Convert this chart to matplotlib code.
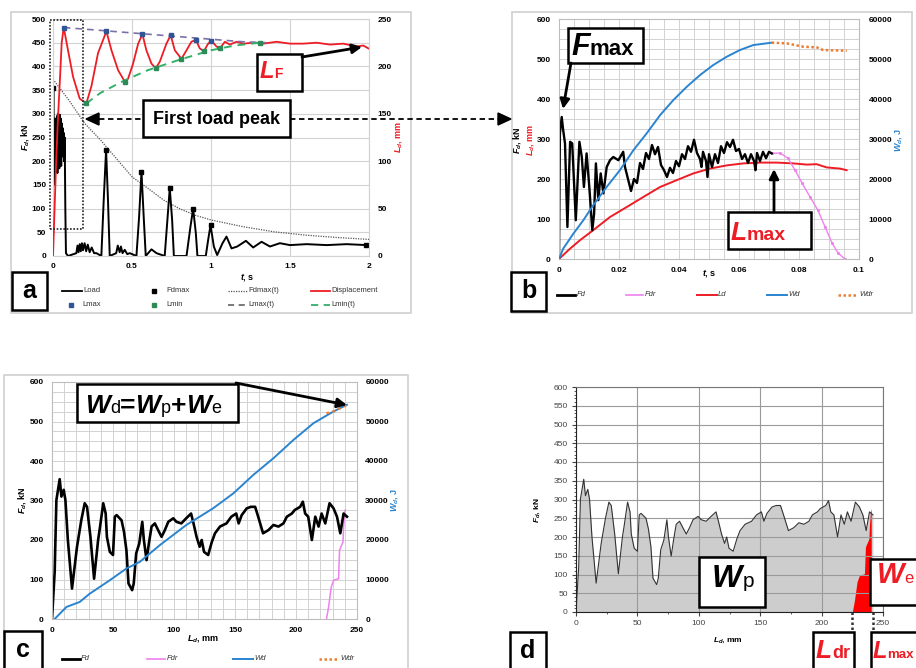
import matplotlib
matplotlib.use('Agg')
import matplotlib.pyplot as plt
from matplotlib.patches import Rectangle, FancyArrowPatch, Polygon
from matplotlib.lines import Line2D

plt.rcParams['font.family'] = ['Liberation Sans', 'DejaVu Sans']
plt.rcParams['mathtext.fontset'] = 'custom'
plt.rcParams['mathtext.rm'] = 'Liberation Sans:bold'
plt.rcParams['mathtext.it'] = 'Liberation Sans:italic:bold'
plt.rcParams['mathtext.bf'] = 'Liberation Sans:bold'

# ---------------- data: panel a (load / displacement vs time) ----------------
t_load = [0, 0.002, 0.004, 0.007, 0.010, 0.013, 0.016, 0.019, 0.022, 0.025, 0.028, 0.031, 0.034,
          0.037, 0.040, 0.043, 0.046, 0.049, 0.052, 0.055, 0.058, 0.061, 0.064, 0.067, 0.070, 0.074,
          0.078, 0.082,
          0.095, 0.148, 0.155, 0.162, 0.169, 0.176, 0.183, 0.19, 0.20, 0.21, 0.22, 0.232, 0.245, 0.26,
          0.275, 0.306, 0.321, 0.336, 0.348, 0.359, 0.40, 0.41, 0.422, 0.43, 0.44, 0.454, 0.47,
          0.486, 0.528, 0.545, 0.56, 0.574, 0.587, 0.623, 0.655, 0.707, 0.724, 0.739, 0.754, 0.765, 0.845,
          0.87, 0.887, 0.904, 0.914, 0.967, 0.982, 0.997, 1.018, 1.039, 1.073, 1.098, 1.13, 1.166, 1.221,
          1.267, 1.32, 1.373, 1.436, 1.5, 1.605, 1.732, 1.858, 1.985]
F_load = [0, 354, 150, 260, 200, 290, 180, 280, 190, 295, 175, 300, 200,
          285, 185, 298, 205, 290, 190, 280, 210, 270, 220, 260, 200, 250,
          100, 6,
          0, 6, 22, 8, 25, 10, 27, 12, 27, 10, 24, 8, 18, 6,
          6, 0, 118, 224, 118, 0, 6, 22, 8, 20, 6, 13, 4,
          6, 0, 83, 178, 83, 0, 14, 6, 0, 76, 143, 76, 0, 0,
          62, 100, 48, 0, 0, 34, 65, 20, 2, 27, 41, 16, 20, 32,
          18, 30, 20, 27, 23, 25, 23, 25, 23]
t_fdmax = [0, 0.338, 0.56, 0.739, 0.887, 0.997, 1.98]
F_fdmax = [354, 224, 178, 143, 100, 65, 23]
t_fdmax_fit = [0, 0.1, 0.2, 0.3, 0.4, 0.5, 0.6, 0.7, 0.8, 0.9, 1.0, 1.2, 1.4, 1.6, 1.8, 2.0]
F_fdmax_fit = [373, 329, 280, 245, 206, 167, 143, 118, 100, 86, 76, 62, 51, 44, 39, 35]
t_disp = [0, 0.01, 0.02, 0.03, 0.045, 0.055, 0.068, 0.095, 0.127, 0.169, 0.211, 0.243, 0.285, 0.338,
          0.37, 0.412, 0.454, 0.475, 0.507, 0.539, 0.566, 0.591, 0.623, 0.65, 0.676, 0.718, 0.745, 0.771,
          0.813, 0.845, 0.876, 0.904, 0.929, 0.955, 0.982, 1.003, 1.035, 1.056, 1.088, 1.119, 1.162, 1.204,
          1.267, 1.33, 1.415, 1.5, 1.584, 1.668, 1.753, 1.837, 1.922, 1.964, 1.996]
L_disp = [0, 50, 100, 140, 190, 225, 241, 217, 189, 166, 161, 179, 214, 237,
          217, 196, 184, 187, 203, 224, 234, 217, 203, 198, 205, 224, 233, 217,
          208, 217, 226, 228, 219, 216, 224, 227, 221, 219, 226, 223, 226, 224,
          225, 224, 226, 224, 224, 225, 223, 224, 221, 222, 219]
t_lmax = [0.068, 0.338, 0.566, 0.745, 0.904, 1.003]
L_lmax = [241, 237, 234, 233, 228, 227]
t_lmax_fit = [0.068, 0.3, 0.6, 0.9, 1.2, 1.35]
L_lmax_fit = [241, 238, 234, 230, 226, 225]
t_lmin = [0.211, 0.454, 0.65, 0.813, 0.955, 1.056, 1.31]
L_lmin = [161, 184, 198, 208, 216, 219, 225]
t_lmin_fit = [0.211, 0.3, 0.45, 0.6, 0.8, 1.0, 1.15, 1.31]
L_lmin_fit = [161, 172, 185, 196, 207, 217, 222, 225]

# ---------------- data: panel b (vs time, first load peak) ----------------
t_fd_b = [0, 0.0003, 0.0009, 0.0014, 0.002, 0.0028, 0.0037, 0.0044, 0.0056, 0.0068, 0.0076, 0.0083,
          0.0092, 0.0101, 0.0111, 0.0117, 0.0123, 0.0131, 0.0139, 0.0148, 0.0159, 0.017, 0.0181, 0.0198,
          0.0214, 0.022, 0.0231,
          0.024, 0.025, 0.026, 0.027, 0.028, 0.029, 0.030, 0.031, 0.032, 0.033, 0.034, 0.035, 0.036,
          0.037, 0.038, 0.039, 0.040, 0.041, 0.042, 0.043, 0.044, 0.045, 0.046, 0.047, 0.0475, 0.048,
          0.049, 0.0495, 0.050, 0.051, 0.052, 0.053, 0.054, 0.055, 0.056, 0.057, 0.058, 0.059, 0.060,
          0.061, 0.062, 0.063, 0.064, 0.065, 0.0655, 0.066, 0.067, 0.068, 0.069, 0.070, 0.0709]
F_fd_b = [0, 314, 355, 322, 289, 80, 293, 289, 97, 293, 255, 180,
          264, 180, 72, 113, 239, 147, 214, 164, 230, 247, 255, 247,
          268, 230, 197,
          170, 200, 190, 240, 225, 265, 250, 285, 262, 280, 235, 222, 205,
          228, 215, 245, 232, 262, 250, 282, 268, 298, 265, 250, 230, 268,
          245, 205, 262, 230, 262, 240, 282, 265, 292, 280, 298, 270, 275,
          250, 262, 240, 262, 245, 222, 265, 245, 268, 252, 268, 264]
t_fdr_b = [0.0709, 0.0737, 0.0763, 0.0787, 0.081, 0.0837, 0.0863, 0.0887, 0.091, 0.093, 0.0953]
F_fdr_b = [264, 265, 252, 222, 190, 155, 122, 80, 40, 15, 0]
t_ld_b = [0, 0.0037, 0.007, 0.0114, 0.017, 0.0226, 0.0281, 0.0337, 0.0392, 0.0448, 0.0503, 0.0559,
          0.0614, 0.067, 0.0726, 0.0781, 0.0826, 0.0859, 0.0892, 0.0937, 0.0959]
L_ld_b = [0, 26, 47, 72, 105, 130, 155, 180, 197, 214, 226, 234, 239, 241, 241, 239, 236, 237, 229, 226, 222]
t_wd_b = [0, 0.0014, 0.0048, 0.0081, 0.0114, 0.0159, 0.0203, 0.0248, 0.0292, 0.0337, 0.0381, 0.0426,
          0.047, 0.0514, 0.0559, 0.0603, 0.0648, 0.0709]
W_wd_b = [0, 2587, 6342, 9680, 13435, 18025, 22200, 27200, 31380, 35970, 39720, 43060,
          45980, 48480, 50570, 52240, 53490, 54080]
t_wdr_b = [0.0709, 0.0759, 0.0814, 0.0859, 0.0881, 0.0959]
W_wdr_b = [54080, 53910, 53070, 52910, 52240, 52070]

# ---------------- data: panels c and d (vs displacement) ----------------
L_fd = [0, 2.2, 3.6, 6.3, 7.7, 9.6, 11, 13, 16.4, 20.5,
        24, 26.8, 28.7, 31.5, 34.5, 37.8, 39, 42, 44, 45,
        47.4, 50, 51.5, 53, 57, 59, 61, 62.7, 65.7, 67,
        69, 71.5, 74, 75.3, 77.5, 79.4, 81.6, 84.3, 87, 89.8,
        92.5, 95.3, 99.4, 102, 106, 110, 114, 116, 118.5, 121,
        122.7, 124.6, 128, 131, 133.6, 137.7, 143, 147, 151, 153,
        155.5, 159.6, 163, 166.5, 169, 173, 177.4, 181.5, 185.6, 189.7,
        192.5, 196.6, 199, 203.4, 205.6, 207.5, 210, 213, 215.8, 218.5,
        221, 224, 227.5, 230.8, 233.6, 236.3, 239, 241.8]
F_fd = [0, 120, 301, 354, 310, 327, 301, 200, 77, 183,
        250, 293, 284, 208, 102, 200, 225, 293, 267, 208,
        170, 162, 259, 263, 250, 221, 174, 90, 73, 90,
        166, 191, 246, 200, 149, 191, 234, 242, 225, 208,
        225, 246, 255, 246, 242, 255, 267, 242, 208, 183,
        200, 170, 162, 195, 217, 234, 242, 259, 267, 242,
        263, 280, 284, 284, 259, 217, 225, 238, 234, 242,
        259, 267, 276, 284, 297, 267, 259, 200, 259, 234,
        267, 242, 293, 280, 259, 217, 267, 259]
L_fdr = [225, 226.7, 228.9, 230.8, 234.9, 235.7, 238.5, 239, 239.8, 240.4]
F_fdr = [0, 30, 81, 98, 102, 174, 195, 233, 267, 276]
L_wd = [2.2, 11.8, 22.7, 31, 47.4, 61, 72, 88.4, 110, 132, 148.7, 165, 181.5, 198, 214.4, 230.8, 241.8]
W_wd = [0, 3046, 4315, 6430, 9817, 12780, 14470, 18700, 23780, 28010, 31820, 36470, 40700, 45360,
        49590, 52550, 54240]
L_wdr = [225, 229, 233.5, 239, 241.8]
W_wdr = [52100, 52300, 52950, 53800, 54240]

# ---------------- colours ----------------
RED = '#ee1c25'
BLUE = '#2a84d0'
VIOLET = '#ee82ee'
ORANGE = '#ed7d31'
GRID = '#d2d2d2'

W, H = 916, 668
fig = plt.figure(figsize=(W / 100, H / 100), dpi=100)
renderer = fig.canvas.get_renderer()


def fx(x):
    return x / W


def fy(y):
    return 1 - y / H


def add_ax(x0, y0, x1, y1):
    return fig.add_axes([x0 / W, 1 - y1 / H, (x1 - x0) / W, (y1 - y0) / H])


def frame(x0, y0, x1, y1, ec='#d0d0d0', lw=1.2, fc='none', z=0.5, ls='-'):
    fig.add_artist(Rectangle((fx(x0), fy(y1)), (x1 - x0) / W, (y1 - y0) / H,
                             transform=fig.transFigure, fc=fc, ec=ec, lw=lw, zorder=z, ls=ls))


def tbox(x0, y0, x1, y1, lw=1.8):
    frame(x0, y0, x1, y1, ec='black', lw=lw, fc='white', z=5)


def rich(x, y, pieces):
    cur = x
    for s, kw in pieces:
        t = fig.text(fx(cur), fy(y), s, ha='left', va='baseline', zorder=6, **kw)
        bb = t.get_window_extent(renderer)
        cur = bb.x1


def arrow(x0, y0, x1, y1, lw=2, ms=14):
    fig.add_artist(FancyArrowPatch((fx(x0), fy(y0)), (fx(x1), fy(y1)), transform=fig.transFigure,
                                   arrowstyle='-|>', mutation_scale=ms, lw=lw, color='black', zorder=7,
                                   shrinkA=0, shrinkB=0))


def head(xt, y, direction, L=13, h=12):
    xb = xt - direction * L
    pts = [(fx(xt), fy(y)), (fx(xb), fy(y - h / 2)), (fx(xb), fy(y + h / 2))]
    fig.add_artist(Polygon(pts, closed=True, transform=fig.transFigure, color='black', zorder=7))


def hline(x0, x1, y, **kw):
    fig.add_artist(Line2D([fx(x0), fx(x1)], [fy(y), fy(y)], transform=fig.transFigure, **kw))


def mark(x, y, **kw):
    fig.add_artist(Line2D([fx(x)], [fy(y)], transform=fig.transFigure, ls='none', **kw))


def ftxt(x, y, s, **kw):
    d = dict(fontsize=5.5, color='#333333', ha='left', va='center')
    d.update(kw)
    fig.text(fx(x), fy(y), s, **d)


def tick_style(ax, size=6, weight='bold', color='black', pad=5):
    ax.tick_params(length=0, labelsize=size, pad=pad, colors=color)
    for lab in ax.get_xticklabels() + ax.get_yticklabels():
        lab.set_fontweight(weight)


def label(x, y, s, rot=0, color='black', size=6.5):
    fig.text(fx(x), fy(y), s, rotation=rot, ha='center', va='center', color=color,
             fontsize=size, fontweight='bold')


# ================= Panel a =================
frame(11, 12, 411, 313)
axa = add_ax(53, 19, 369, 256)
axa.set_xlim(0, 2)
axa.set_ylim(0, 500)
axa.set_xticks([0, 0.5, 1, 1.5, 2])
axa.set_xticklabels(['0', '0.5', '1', '1.5', '2'])
axa.set_yticks(range(0, 501, 50))
axa.grid(color=GRID, lw=0.8)
for s in axa.spines.values():
    s.set_color(GRID)
axa.plot(t_fdmax_fit, F_fdmax_fit, ls=(0, (1, 1)), color='#555555', lw=0.9)
axa.plot(t_load, F_load, color='black', lw=1.4)
axa.plot(t_fdmax, F_fdmax, ls='none', marker='s', ms=3, color='black')
tick_style(axa, pad=5)
axa2 = axa.twinx()
axa2.set_ylim(0, 250)
axa2.set_yticks(range(0, 251, 50))
for s in axa2.spines.values():
    s.set_visible(False)
axa2.plot(t_disp, L_disp, color=RED, lw=1.3)
axa2.plot(t_lmax_fit, L_lmax_fit, ls=(0, (4, 3)), color='#7d6fa8', lw=1.2)
axa2.plot(t_lmin_fit, L_lmin_fit, ls=(0, (4, 3)), color='#33b06a', lw=1.4)
axa2.plot(t_lmax, L_lmax, ls='none', marker='s', ms=3, color='#2f5597')
axa2.plot(t_lmin, L_lmin, ls='none', marker='s', ms=3, color='#2e8b57')
tick_style(axa2, pad=6)
label(25, 137, r'$F_d$, kN', rot=90)
label(398, 137, r'$L_d$, mm', rot=90, color=RED)
label(247, 277, r'$t$, s')

# legend a
hline(62, 82, 291, color='black', lw=1.3)
ftxt(83, 291, 'Load')
mark(154, 291, marker='s', ms=3, color='black')
ftxt(166, 291, 'Fdmax')
hline(228, 247, 291, color='#555555', lw=0.9, ls=(0, (1, 1)))
ftxt(248, 291, 'Fdmax(t)')
hline(311, 330, 291, color=RED, lw=1.3)
ftxt(331, 291, 'Displacement')
mark(71, 305, marker='s', ms=3, color='#2f5597')
ftxt(82, 305, 'Lmax')
mark(154, 305, marker='s', ms=3, color='#2e8b57')
ftxt(166, 305, 'Lmin')
hline(228, 247, 305, color='#555555', lw=1.1, ls=(0, (4, 3)))
ftxt(248, 305, 'Lmax(t)')
hline(311, 330, 305, color='#33b06a', lw=1.3, ls=(0, (4, 3)))
ftxt(331, 305, 'Lmin(t)')

# annotations a
frame(50, 20, 83, 229, ec='#222222', lw=1.2, z=4, ls=(0, (1, 1)))
tbox(143, 100, 290, 137)
fig.text(fx(216.5), fy(119), 'First load peak', ha='center', va='center', fontsize=13,
         fontweight='bold', zorder=6)
hline(99, 143, 119, color='black', lw=1.3, ls=(0, (3, 2)), zorder=7)
head(86, 119, -1)
hline(290, 498, 119, color='black', lw=1.3, ls=(0, (3, 2)), zorder=7)
head(511, 119, 1)
tbox(257, 54, 302, 91)
rich(260, 78, [('L', dict(fontsize=17, color=RED, fontstyle='italic', fontweight='bold')),
               ('F', dict(fontsize=10, color=RED, fontweight='bold'))])
arrow(302, 57, 362, 47)
tbox(12, 272, 47, 310)
fig.text(fx(29.5), fy(291), 'a', ha='center', va='center', fontsize=18, fontweight='bold', zorder=6)

# ================= Panel b =================
frame(512, 12, 912, 313)
axb = add_ax(559, 19, 859, 259)
axb.set_xlim(0, 0.1)
axb.set_ylim(0, 600)
axb.set_xticks([0, 0.02, 0.04, 0.06, 0.08, 0.1])
axb.set_xticklabels(['0', '0.02', '0.04', '0.06', '0.08', '0.1'])
axb.set_yticks(range(0, 601, 100))
axb.set_xticks([i * 0.005 for i in range(21)], minor=True)
axb.set_yticks(range(0, 601, 25), minor=True)
axb.grid(which='both', color=GRID, lw=0.7)
axb.tick_params(which='minor', length=0)
for s in axb.spines.values():
    s.set_color('#bdbdbd')
axb.plot(t_ld_b, L_ld_b, color=RED, lw=1.4)
axb.plot(t_fdr_b, F_fdr_b, color=VIOLET, lw=1.0, marker='.', ms=2.5)
axb.plot(t_fd_b, F_fd_b, color='black', lw=1.7)
tick_style(axb, pad=6)
axb2 = axb.twinx()
axb2.set_ylim(0, 60000)
axb2.set_yticks(range(0, 60001, 10000))
for s in axb2.spines.values():
    s.set_visible(False)
axb2.plot(t_wd_b, W_wd_b, color=BLUE, lw=1.4)
axb2.plot(t_wdr_b, W_wdr_b, color=ORANGE, lw=1.8, ls=(0, (1, 1)))
tick_style(axb2, pad=7)
label(517, 140, r'$F_d$, kN', rot=90)
label(530, 140, r'$L_d$, mm', rot=90, color=RED)
label(898, 140, r'$W_d$, J', rot=90, color=BLUE)
label(709, 273, r'$t$, s')

# legend b
hline(557, 575, 295, color='black', lw=2)
ftxt(577, 295, 'Fd', fontstyle='italic')
hline(626, 643, 295, color=VIOLET, lw=1.2)
ftxt(645, 295, 'Fdr', fontstyle='italic')
hline(697, 717, 295, color=RED, lw=1.4)
ftxt(718, 295, 'Ld', fontstyle='italic')
hline(767, 787, 295, color=BLUE, lw=1.4)
ftxt(788, 295, 'Wd', fontstyle='italic')
hline(838, 858, 295, color=ORANGE, lw=1.8, ls=(0, (1, 1)))
ftxt(859, 295, 'Wdr', fontstyle='italic')

# annotations b
tbox(568, 28, 643, 63)
rich(571, 55, [('F', dict(fontsize=22, fontstyle='italic', fontweight='bold')),
               ('max', dict(fontsize=16, fontweight='bold'))])
arrow(571, 63, 563, 109)
tbox(728, 212, 811, 249)
rich(731, 240, [('L', dict(fontsize=19, color=RED, fontstyle='italic', fontweight='bold')),
                ('max', dict(fontsize=14, color=RED, fontweight='bold'))])
arrow(774, 212, 774, 169)
tbox(511, 272, 546, 311)
fig.text(fx(528.5), fy(291), 'b', ha='center', va='center', fontsize=18, fontweight='bold', zorder=6)

# ================= Panel c =================
frame(4, 375, 408, 700)
axc = add_ax(52, 382, 357, 619)
axc.set_xlim(0, 250)
axc.set_ylim(0, 600)
axc.set_xticks(range(0, 251, 50))
axc.set_yticks(range(0, 601, 100))
axc.set_xticks(range(0, 251, 10), minor=True)
axc.set_yticks(range(0, 601, 25), minor=True)
axc.grid(which='both', color=GRID, lw=0.7)
axc.tick_params(which='minor', length=0)
for s in axc.spines.values():
    s.set_color('#bdbdbd')
axc.plot(L_fdr, F_fdr, color=VIOLET, lw=1.1)
axc.plot(L_fd, F_fd, color='black', lw=1.9)
tick_style(axc, pad=6)
axc2 = axc.twinx()
axc2.set_ylim(0, 60000)
axc2.set_yticks(range(0, 60001, 10000))
for s in axc2.spines.values():
    s.set_visible(False)
axc2.plot(L_wd, W_wd, color=BLUE, lw=1.4)
axc2.plot(L_wdr, W_wdr, color=ORANGE, lw=1.8, ls=(0, (1, 1.5)))
tick_style(axc2, pad=6)
label(22, 500, r'$F_d$, kN', rot=90)
label(395, 500, r'$W_d$, J', rot=90, color=BLUE)
label(203, 638, r'$L_d$, mm')

# legend c
hline(62, 80, 659, color='black', lw=2)
ftxt(81, 659, 'Fd', fontstyle='italic')
hline(147, 165, 659, color=VIOLET, lw=1.2)
ftxt(167, 659, 'Fdr', fontstyle='italic')
hline(233, 253, 659, color=BLUE, lw=1.4)
ftxt(254, 659, 'Wd', fontstyle='italic')
hline(319, 338, 659, color=ORANGE, lw=1.8, ls=(0, (1, 1)))
ftxt(340, 659, 'Wdr', fontstyle='italic')

# annotations c
tbox(77, 384, 238, 422)
big = dict(fontsize=19, fontstyle='italic', fontweight='bold')
sub = dict(fontsize=13)
op = dict(fontsize=19, fontweight='bold')
rich(85, 413, [('W', big), ('d', sub), ('=', op), ('W', big), ('p', sub), ('+', op),
               ('W', big), ('e', sub)])
arrow(236, 383, 347, 405)
tbox(4, 631, 42, 700)
fig.text(fx(23), fy(650), 'c', ha='center', va='center', fontsize=18, fontweight='bold', zorder=6)

# ================= Panel d =================
axd = add_ax(576, 387, 883, 612)
axd.set_xlim(0, 250)
axd.set_ylim(0, 600)
axd.set_xticks(range(0, 251, 50))
axd.set_yticks(range(0, 601, 50))
axd.set_xticks(range(0, 251, 25), minor=True)
axd.set_yticks(range(0, 601, 10), minor=True)
axd.grid(which='major', color='#9a9a9a', lw=0.8)
axd.fill_between(L_fd, F_fd, color='#cdcdcd', lw=0)
axd.plot(L_fd, F_fd, color='#333333', lw=0.8)
axd.fill_betweenx(F_fdr, L_fdr, L_fdr[-1], color='#ff0000', lw=0)
axd.tick_params(which='major', length=3, labelsize=6, pad=3, colors='#444444')
axd.tick_params(which='minor', length=1.5, colors='#444444')
for k in ['left', 'bottom']:
    axd.spines[k].set_color('#222222')
for k in ['top', 'right']:
    axd.spines[k].set_color('#777777')
xt = axd.get_xaxis_transform()
axd.plot([L_fdr[0], L_fdr[0]], [0, -0.09], transform=xt, clip_on=False, ls=(0, (1, 1)),
         color='#333333', lw=1.8)
axd.plot([L_fd[-1], L_fd[-1]], [0, -0.09], transform=xt, clip_on=False, ls=(0, (1, 1)),
         color='#333333', lw=1.8)
label(537, 510, r'$F_d$, kN', rot=90, size=6)
label(728, 640, r'$L_d$, mm', size=6)

tbox(699, 557, 765, 607)
rich(712, 587, [('W', dict(fontsize=23, fontstyle='italic', fontweight='bold')),
                ('p', dict(fontsize=15))])
tbox(870, 559, 930, 605)
rich(877, 583, [('W', dict(fontsize=21, fontstyle='italic', fontweight='bold', color=RED)),
                ('e', dict(fontsize=12, color=RED))])
tbox(813, 632, 854, 700)
rich(816, 658, [('L', dict(fontsize=19, fontstyle='italic', fontweight='bold', color=RED)),
                ('dr', dict(fontsize=13, color=RED, fontweight='bold'))])
tbox(871, 632, 930, 700)
rich(873, 658, [('L', dict(fontsize=17, fontstyle='italic', fontweight='bold', color=RED)),
                ('max', dict(fontsize=9.5, color=RED, fontweight='bold'))])
tbox(510, 632, 546, 700)
fig.text(fx(528), fy(651), 'd', ha='center', va='center', fontsize=18, fontweight='bold', zorder=6)

fig.savefig('out.png', dpi=100)
